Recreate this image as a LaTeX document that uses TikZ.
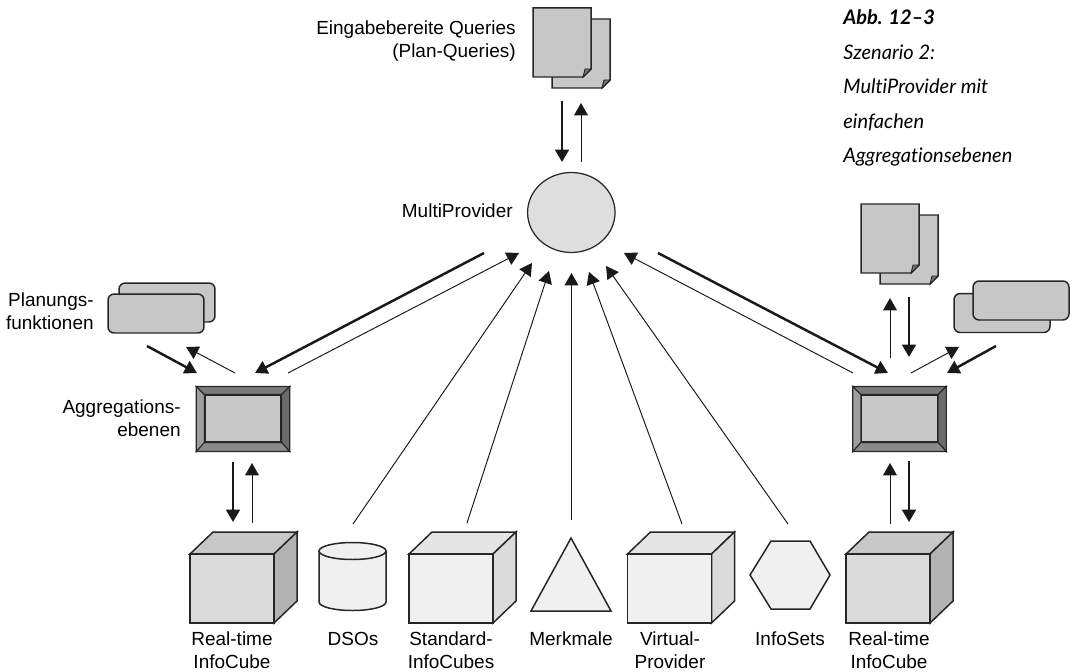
\documentclass[tikz,border=0pt]{standalone}
\usepackage{fontspec}
\setmainfont{Liberation Sans}
\newfontfamily\captionfont[Ligatures={NoCommon}]{Lato}
\usepackage{tikz}
\usetikzlibrary{arrows.meta,shapes.geometric}

\begin{document}
\begin{tikzpicture}
		[
			x=0.02cm, y=-0.02cm,
			outline/.style = {draw=black!85, line width=0.85pt, line join=miter},
			lbl/.style = {inner sep=0pt, font=\fontsize{10.8}{13}\selectfont},
			clbl/.style = {lbl, align=center},
			rlbl/.style = {lbl, align=right, anchor=east},
			thinarrow/.style = {draw=black!90, line width=0.55pt, -{Triangle[length=7pt,width=7.8pt]}},
			thickarrow/.style = {draw=black!90, line width=1.4pt, -{Triangle[length=7pt,width=7.8pt]}},
			stack/.style = {outline, fill=black!22, rounded corners=3.5pt, minimum width=1.92cm, minimum height=0.78cm, inner sep=0pt},
			frontbox/.style = {outline, line width=0.6pt, minimum width=1.85cm, minimum height=1.28cm, inner sep=0pt},
			innerbox/.style = {outline, line width=0.6pt, fill=black!22, minimum width=1.52cm, minimum height=0.94cm, inner sep=0pt},
			cubeface/.style = {outline, minimum width=1.68cm, minimum height=1.38cm, inner sep=0pt},
		]
		\useasboundingbox (0,0) rectangle (1074,672);

		% query documents
		\foreach \dx/\dy in {0/0,328/196}
		{
			\foreach \ox/\oy in {19/11,0/0}
			{
				\draw[outline, fill=black!22, shift={(\dx+\ox,\dy+\oy)}] (533,8) -- (591,8) -- (591,69) -- (583,77) -- (533,77) -- cycle;
				\draw[outline, line width=0.5pt, fill=black!55, shift={(\dx+\ox,\dy+\oy)}] (583,77) -- (585,69) -- (591,69) -- cycle;
			}
		}

		% multiprovider
		\node[ellipse, outline, line width=0.7pt, fill=black!13, minimum width=1.75cm, minimum height=1.6cm, inner sep=0pt] (multi) at (571.3,212.5) {};

		% planning functions
		\node[stack] (planb) at (167,302.5) {};
		\node[stack] (planf) at (156,313.5) {};
		\node[stack] (planrb) at (1002,313) {};
		\node[stack] (planrf) at (1021,300.5) {};

		% aggregation levels
		\foreach \name/\cx in {agl/243,agr/899.5}
		{
			\node[frontbox] (\name) at (\cx,419) {};
			\node[innerbox] (\name i) at (\cx,418.5) {};
			\draw[outline, line width=0.6pt, fill=black!38] (\name.north west) -- (\name i.north west) -- (\name i.south west) -- (\name.south west) -- cycle;
			\draw[outline, line width=0.6pt, fill=black!52] (\name.north west) -- (\name i.north west) -- (\name i.north east) -- (\name.north east) -- cycle;
			\draw[outline, line width=0.6pt, fill=black!58] (\name.north east) -- (\name i.north east) -- (\name i.south east) -- (\name.south east) -- cycle;
			\draw[outline, line width=0.6pt, fill=black!46] (\name.south west) -- (\name i.south west) -- (\name i.south east) -- (\name.south east) -- cycle;
		}

		% cubes
		\foreach \name/\cx/\cfront/\ctop/\cside in {rtl/232/black!14/black!22/black!30,std/451/black!6/black!10/black!14,vip/669.5/black!6/black!10/black!14,rtr/888/black!14/black!22/black!30}
		{
			\draw[outline, fill=\ctop] (\cx-42,554) -- ++(23,-22) -- ++(84,0) -- ++(-23,22) -- cycle;
			\draw[outline, fill=\cside] (\cx+42,554) -- ++(23,-22) -- ++(0,69) -- ++(-23,22) -- cycle;
			\node[cubeface, fill=\cfront] (\name) at (\cx,588.5) {};
		}

		% dsos
		\draw[outline, fill=black!6] (319,551) -- (319,602) arc[start angle=180, end angle=360, x radius=33.5, y radius=-8.5] -- (386,551);
		\draw[outline, fill=black!6] (352.5,551) ellipse[x radius=33.5, y radius=8.5];

		% characteristics and infosets
		\draw[outline, fill=black!6] (571,538) -- (611,611) -- (531,611) -- cycle;
		\draw[outline, fill=black!6] (771,541) -- (810,541) -- (830,575) -- (810,609) -- (771,609) -- (750,575) -- cycle;

		% thin connectors
		\foreach \name/\xa/\ya/\xb/\yb in {
			qup/581/162/581/103, pback/235/373/186/347, agup/288/373/519/253, rtup/252/523/252/463,
			dso/353/524/532/263, sic/467/523/549/271, mrk/571.5/520/571.5/273, vp/682/524/589/272,
			iset/788/524/606/266, agrup/853/373/624/253, qrup/890/358/890/298, prback/911/373/959/347,
			rtrup/890/524/890/463}
		{
			\coordinate (\name s) at (\xa,\ya);
			\coordinate (\name e) at (\xb,\yb);
			\draw[thinarrow] (\name s) -- (\name e);
		}

		% thick connectors
		\foreach \name/\xa/\ya/\xb/\yb in {
			qdn/562/101/562/162, pin/147/346/197/373, agdn/484/253/255/373, rtdn/233/462/233/522,
			agrdn/658/253/888/373, qrdn/909/297/909/357, prin/996/346/947/373, rtrdn/909/461/909/522}
		{
			\coordinate (\name s) at (\xa,\ya);
			\coordinate (\name e) at (\xb,\yb);
			\draw[thickarrow] (\name s) -- (\name e);
		}

		% labels
		\node[rlbl] (qtext) at (516,41.5) {Eingabebereite Queries\\(Plan-Queries)};
		\node[rlbl] (mtext) at (513,211) {MultiProvider};
		\node[rlbl] (ptext) at (94,311.5) {Planungs-\\funktionen};
		\node[rlbl] (atext) at (181,418) {Aggregations-\\ebenen};
		\node[clbl] (rtltext) at (232,650.5) {Real-time\\InfoCube};
		\node[lbl] (dsotext) at (353,639) {DSOs};
		\node[clbl] (stdtext) at (451,650.5) {Standard-\\InfoCubes};
		\node[lbl] (mrktext) at (571,639) {Merkmale};
		\node[clbl] (viptext) at (670,650.5) {Virtual-\\Provider};
		\node[lbl] (isettext) at (790,639) {InfoSets};
		\node[clbl] (rtrtext) at (889,650.5) {Real-time\\InfoCube};

		% caption
		\node[inner sep=0pt, anchor=west, align=left, font=\captionfont\fontsize{11.4}{19.7}\selectfont\itshape] (caption) at (843,88)
			{{\bfseries Abb. 12–3}\\Szenario 2:\\MultiProvider mit\\einfachen\\Aggregationsebenen};

		\end{tikzpicture}
\end{document}
